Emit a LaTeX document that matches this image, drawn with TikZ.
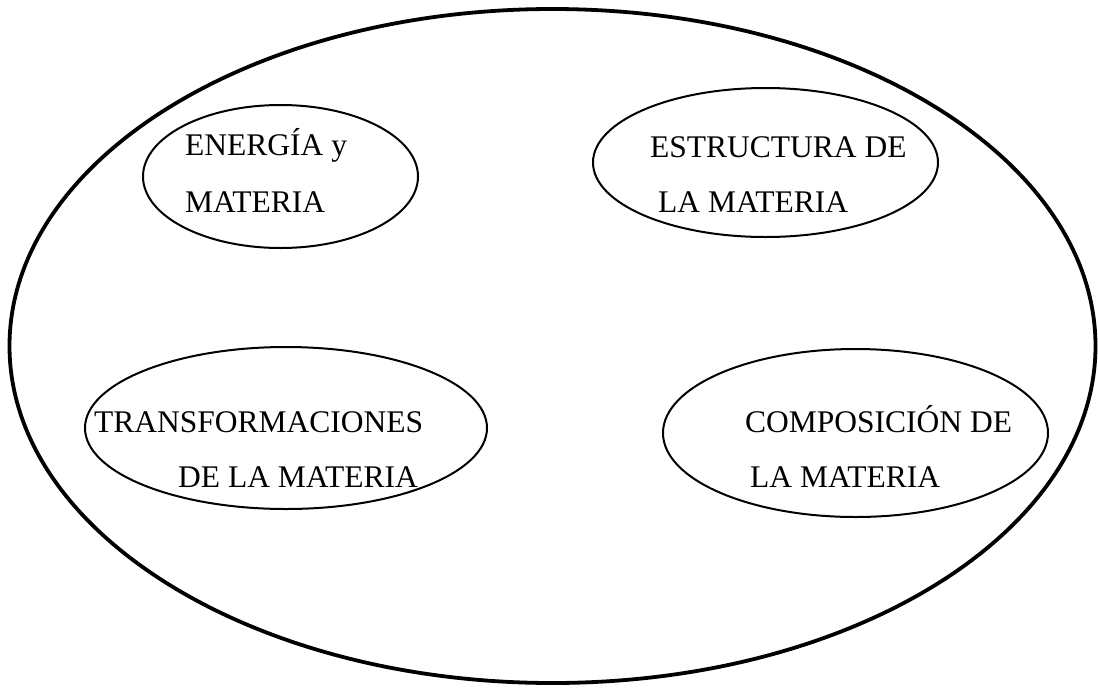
\documentclass[tikz,border=0pt]{standalone}
\usepackage{fontspec}
\setmainfont{Liberation Serif}
\usetikzlibrary{shapes.geometric}
\begin{document}
\begin{tikzpicture}[x=1pt,y=-1pt,
  outer/.style={draw,ellipse,line width=3.8pt,inner sep=0pt},
  topic/.style={draw,ellipse,line width=2pt,inner sep=0pt},
  lbl/.style={anchor=base west,inner sep=0pt,font=\fontsize{31.5}{36}\selectfont}]
\useasboundingbox (0,0) rectangle (1098,689);
\node[outer,minimum width=1086pt,minimum height=674pt] (big) at (552.5,346) {};
\node[topic,minimum width=275pt,minimum height=143pt] (e1) at (280.5,176.5) {};
\node[topic,minimum width=345pt,minimum height=149pt] (e2) at (765.5,162.5) {};
\node[topic,minimum width=402pt,minimum height=162pt] (e3) at (286,428) {};
\node[topic,minimum width=385pt,minimum height=168pt] (e4) at (855.5,433) {};
\node[lbl] (t1a) at (185,155) {ENERGÍA y};
\node[lbl] (t1b) at (185,212) {MATERIA};
\node[lbl] (t2a) at (650,157) {ESTRUCTURA DE};
\node[lbl] (t2b) at (658,212) {LA MATERIA};
\node[lbl] (t3a) at (94,432) {TRANSFORMACIONES};
\node[lbl] (t3b) at (178,487) {DE LA MATERIA};
\node[lbl] (t4a) at (745,432) {COMPOSICIÓN DE};
\node[lbl] (t4b) at (750,487) {LA MATERIA};
\end{tikzpicture}
\end{document}
